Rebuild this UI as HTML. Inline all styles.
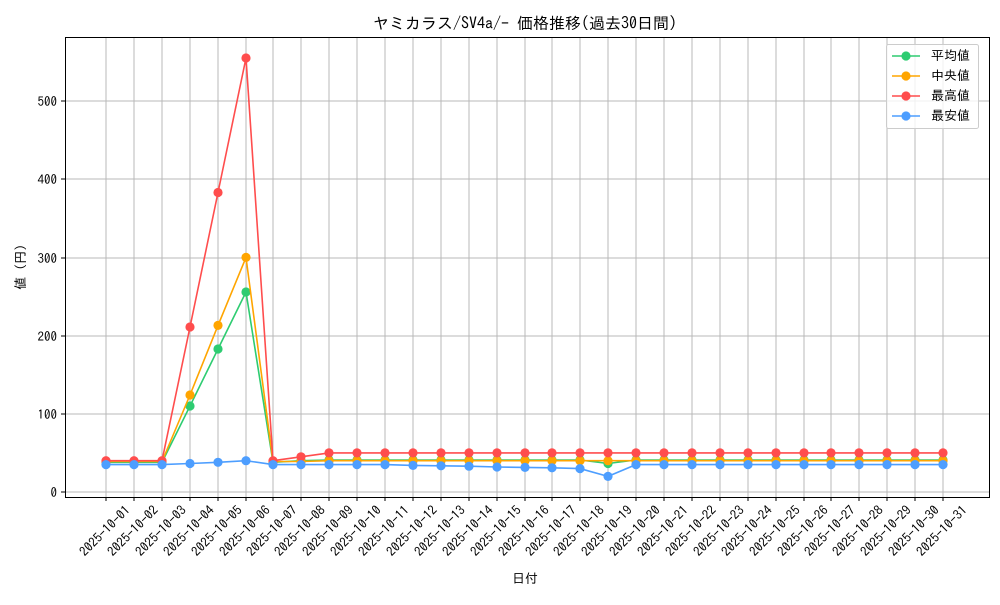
<!DOCTYPE html>
<html><head><meta charset="utf-8"><style>
body{margin:0;background:#fff}
svg text{font-family:"IPAGothic","Liberation Sans","Noto Sans CJK JP",sans-serif;fill:#000}
</style></head><body>
<svg width="1000" height="600" viewBox="0 0 1000 600" xmlns="http://www.w3.org/2000/svg">
<defs>
<marker id="mg" markerUnits="userSpaceOnUse" markerWidth="12" markerHeight="12" refX="6" refY="6"><circle cx="6" cy="6" r="4.6" fill="#2ecc71"/></marker>
<marker id="mo" markerUnits="userSpaceOnUse" markerWidth="12" markerHeight="12" refX="6" refY="6"><circle cx="6" cy="6" r="4.6" fill="#ffa500"/></marker>
<marker id="mr" markerUnits="userSpaceOnUse" markerWidth="12" markerHeight="12" refX="6" refY="6"><circle cx="6" cy="6" r="4.6" fill="#ff4d4d"/></marker>
<marker id="mb" markerUnits="userSpaceOnUse" markerWidth="12" markerHeight="12" refX="6" refY="6"><circle cx="6" cy="6" r="4.6" fill="#4d9eff"/></marker>
</defs>
<rect width="1000" height="600" fill="#fff"/>
<g stroke="#b8b8b8" stroke-width="1">
<path d="M106 37V497M134 37V497M162 37V497M190 37V497M218 37V497M246 37V497M273 37V497M301 37V497M329 37V497M357 37V497M385 37V497M413 37V497M441 37V497M469 37V497M497 37V497M525 37V497M552 37V497M580 37V497M608 37V497M636 37V497M664 37V497M692 37V497M720 37V497M748 37V497M776 37V497M804 37V497M831 37V497M859 37V497M887 37V497M915 37V497M943 37V497"/>
<path d="M65 492H990M65 414H990M65 336H990M65 258H990M65 179H990M65 101H990"/>
</g>
<g fill="none" stroke-width="1.6">
<polyline stroke="#2ecc71" marker-start="url(#mg)" marker-mid="url(#mg)" marker-end="url(#mg)" points="106,462.3 134,462.3 162,462.3 190,406 218,349 246,292 273,462.3 301,460.7 329,460 357,460 385,460 413,460 441,460 469,460 497,460 525,460 552,460 580,460 608,463.5 636,460 664,460 692,460 720,460 748,460 776,460 804,460 831,460 859,460 887,460 915,460 943,460"/>
<polyline stroke="#ffa500" marker-start="url(#mo)" marker-mid="url(#mo)" marker-end="url(#mo)" points="106,461.5 134,461.5 162,461.5 190,395 218,325.4 246,257.4 273,461.5 301,461.5 329,460.7 357,460.7 385,460.7 413,460.7 441,460.7 469,460.7 497,460.7 525,460.7 552,460.7 580,460.7 608,460.7 636,460.7 664,460.7 692,460.7 720,460.7 748,460.7 776,460.7 804,460.7 831,460.7 859,460.7 887,460.7 915,460.7 943,460.7"/>
<polyline stroke="#ff4d4d" marker-start="url(#mr)" marker-mid="url(#mr)" marker-end="url(#mr)" points="106,460.7 134,460.7 162,460.7 190,327 218,192.5 246,58 273,460.7 301,456.8 329,452.9 357,452.9 385,452.9 413,452.9 441,452.9 469,452.9 497,452.9 525,452.9 552,452.9 580,452.9 608,452.9 636,452.9 664,452.9 692,452.9 720,452.9 748,452.9 776,452.9 804,452.9 831,452.9 859,452.9 887,452.9 915,452.9 943,452.9"/>
<polyline stroke="#4d9eff" marker-start="url(#mb)" marker-mid="url(#mb)" marker-end="url(#mb)" points="106,464.6 134,464.6 162,464.6 190,463.5 218,462.3 246,460.7 273,464.6 301,464.6 329,464.6 357,464.6 385,464.6 413,465.4 441,465.8 469,466.2 497,467 525,467.4 552,467.8 580,468.6 608,476.4 636,464.6 664,464.6 692,464.6 720,464.6 748,464.6 776,464.6 804,464.6 831,464.6 859,464.6 887,464.6 915,464.6 943,464.6"/>
</g>
<rect x="65.5" y="37.5" width="924" height="460" fill="none" stroke="#000" stroke-width="1"/>
<g stroke="#000"><path d="M65 492h-4M65 414h-4M65 336h-4M65 258h-4M65 179h-4M65 101h-4"/>
<path d="M106 497v4M134 497v4M162 497v4M190 497v4M218 497v4M246 497v4M273 497v4M301 497v4M329 497v4M357 497v4M385 497v4M413 497v4M441 497v4M469 497v4M497 497v4M525 497v4M552 497v4M580 497v4M608 497v4M636 497v4M664 497v4M692 497v4M720 497v4M748 497v4M776 497v4M804 497v4M831 497v4M859 497v4M887 497v4M915 497v4M943 497v4"/></g>
<g font-size="13" text-anchor="end">
<text x="57" y="497">0</text><text x="57" y="419">100</text><text x="57" y="341">200</text><text x="57" y="263">300</text><text x="57" y="184">400</text><text x="57" y="106">500</text>
</g>
<g font-size="13" text-anchor="end">
<text transform="translate(131,511) rotate(-45)">2025-10-01</text>
<text transform="translate(159,511) rotate(-45)">2025-10-02</text>
<text transform="translate(187,511) rotate(-45)">2025-10-03</text>
<text transform="translate(215,511) rotate(-45)">2025-10-04</text>
<text transform="translate(243,511) rotate(-45)">2025-10-05</text>
<text transform="translate(271,511) rotate(-45)">2025-10-06</text>
<text transform="translate(298,511) rotate(-45)">2025-10-07</text>
<text transform="translate(326,511) rotate(-45)">2025-10-08</text>
<text transform="translate(354,511) rotate(-45)">2025-10-09</text>
<text transform="translate(382,511) rotate(-45)">2025-10-10</text>
<text transform="translate(410,511) rotate(-45)">2025-10-11</text>
<text transform="translate(438,511) rotate(-45)">2025-10-12</text>
<text transform="translate(466,511) rotate(-45)">2025-10-13</text>
<text transform="translate(494,511) rotate(-45)">2025-10-14</text>
<text transform="translate(522,511) rotate(-45)">2025-10-15</text>
<text transform="translate(550,511) rotate(-45)">2025-10-16</text>
<text transform="translate(577,511) rotate(-45)">2025-10-17</text>
<text transform="translate(605,511) rotate(-45)">2025-10-18</text>
<text transform="translate(633,511) rotate(-45)">2025-10-19</text>
<text transform="translate(661,511) rotate(-45)">2025-10-20</text>
<text transform="translate(689,511) rotate(-45)">2025-10-21</text>
<text transform="translate(717,511) rotate(-45)">2025-10-22</text>
<text transform="translate(745,511) rotate(-45)">2025-10-23</text>
<text transform="translate(773,511) rotate(-45)">2025-10-24</text>
<text transform="translate(801,511) rotate(-45)">2025-10-25</text>
<text transform="translate(829,511) rotate(-45)">2025-10-26</text>
<text transform="translate(856,511) rotate(-45)">2025-10-27</text>
<text transform="translate(884,511) rotate(-45)">2025-10-28</text>
<text transform="translate(912,511) rotate(-45)">2025-10-29</text>
<text transform="translate(940,511) rotate(-45)">2025-10-30</text>
<text transform="translate(968,511) rotate(-45)">2025-10-31</text>
</g>
<text x="525" y="583" font-size="13" text-anchor="middle">日付</text>
<text transform="translate(25,267) rotate(-90)" font-size="13" text-anchor="middle">値 (円)</text>
<text x="525" y="29" font-size="16" text-anchor="middle">ヤミカラス/SV4a/- 価格推移(過去30日間)</text>
<rect x="886.5" y="44.5" width="92" height="84" rx="2" fill="#fff" fill-opacity="0.8" stroke="#ccc"/>
<g stroke-width="1.6">
<line x1="892" y1="56" x2="920" y2="56" stroke="#2ecc71"/><circle cx="906" cy="56" r="4.6" fill="#2ecc71"/>
<line x1="892" y1="76" x2="920" y2="76" stroke="#ffa500"/><circle cx="906" cy="76" r="4.6" fill="#ffa500"/>
<line x1="892" y1="96" x2="920" y2="96" stroke="#ff4d4d"/><circle cx="906" cy="96" r="4.6" fill="#ff4d4d"/>
<line x1="892" y1="116" x2="920" y2="116" stroke="#4d9eff"/><circle cx="906" cy="116" r="4.6" fill="#4d9eff"/>
</g>
<g font-size="13">
<text x="931" y="60">平均値</text><text x="931" y="80"> 中央値</text><text x="931" y="100">最高値</text><text x="931" y="120">最安値</text>
</g>
</svg>
</body></html>
